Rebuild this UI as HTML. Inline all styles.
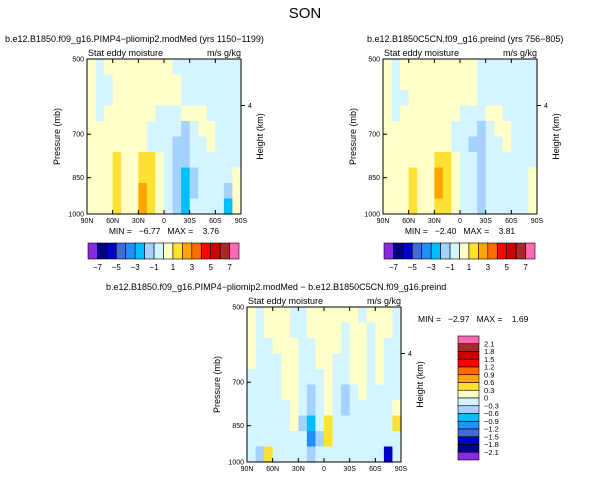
<!DOCTYPE html>
<html><head><meta charset="utf-8"><style>
body{margin:0;background:#fff;font-family:"Liberation Sans",sans-serif;}
svg text{font-family:"Liberation Sans",sans-serif;fill:#000;white-space:pre;}
</style></head><body>
<svg id="s" width="611" height="481" viewBox="0 0 611 481" xmlns="http://www.w3.org/2000/svg">
<text x="305" y="18" font-size="15" text-anchor="middle">SON</text>
</svg>
<script>
const colors=["#8a2be2","#00008b","#0000cd","#4169e1","#1e90ff","#00bfff","#a6d2ff","#d4f4ff","#ffffc8","#ffe135","#ffa500","#ff6a00","#ff0000","#cd0000","#a52a2a","#ff69b4"];
const xTicks=["90N","60N","30N","0","30S","60S","90S"];
const pTicks=[500,700,850,1000];
const barLabelsTop=["-7","-5","-3","-1","1","3","5","7"];
const barLabelsDiff=["2.1","1.8","1.5","1.2","0.9","0.6","0.3","0","-0.3","-0.6","-0.9","-1.2","-1.5","-1.8","-2.1"];
const grid1=[
[0.5,-0.5,0.5,0.5,0.5,0.5,0.5,0.5,0.5,0.5,-0.5,-0.5,-0.5,-0.5,-0.5,-0.5,-0.5,-0.5],
[0.5,-0.5,-0.5,0.5,0.5,0.5,0.5,0.5,0.5,0.5,0.5,-0.5,-0.5,-0.5,-0.5,-0.5,-0.5,-0.5],
[0.5,-0.5,-0.5,0.5,0.5,0.5,0.5,0.5,0.5,0.5,0.5,-0.5,-0.5,-0.5,-0.5,-0.5,-0.5,-0.5],
[0.5,-0.5,0.5,0.5,0.5,0.5,0.5,0.5,-0.5,-0.5,-0.5,0.5,0.5,0.5,-0.5,-0.5,-0.5,-0.5],
[0.5,0.5,0.5,0.5,0.5,0.5,0.5,-0.5,-0.5,-0.5,-0.5,-1.5,-0.5,0.5,0.5,-0.5,-0.5,-0.5],
[0.5,0.5,0.5,0.5,0.5,0.5,0.5,-0.5,-0.5,-0.5,-1.5,-1.5,-0.5,-0.5,0.5,-0.5,-0.5,-0.5],
[0.5,0.5,0.5,1.5,0.5,0.5,1.5,1.5,0.5,-0.5,-1.5,-1.5,-0.5,-0.5,-0.5,-0.5,-0.5,-0.5],
[0.5,0.5,0.5,1.5,0.5,0.5,1.5,1.5,0.5,-0.5,-1.5,-2.5,-1.5,-0.5,-0.5,-0.5,-0.5,0.5],
[0.5,0.5,0.5,1.5,0.5,0.5,2.5,1.5,0.5,-0.5,-1.5,-2.5,-1.5,-0.5,-0.5,-0.5,-1.5,0.5],
[0.5,0.5,0.5,1.5,0.5,0.5,2.5,1.5,0.5,-0.5,-1.5,-2.5,-0.5,-0.5,-0.5,-0.5,-2.5,0.5]];
const grid2=[
[0.5,-0.5,0.5,0.5,0.5,0.5,0.5,0.5,0.5,0.5,0.5,-0.5,-0.5,-0.5,-0.5,-0.5,-0.5,-0.5],
[0.5,-0.5,0.5,0.5,0.5,0.5,0.5,0.5,0.5,0.5,0.5,-0.5,-0.5,-0.5,-0.5,-0.5,-0.5,-0.5],
[0.5,-0.5,-0.5,0.5,0.5,0.5,0.5,0.5,0.5,0.5,0.5,-0.5,-0.5,-0.5,-0.5,-0.5,-0.5,-0.5],
[0.5,-0.5,0.5,0.5,0.5,0.5,0.5,0.5,0.5,-0.5,-0.5,-0.5,0.5,0.5,-0.5,-0.5,-0.5,-0.5],
[0.5,0.5,0.5,0.5,0.5,0.5,0.5,0.5,-0.5,-0.5,-0.5,-1.5,-0.5,0.5,0.5,-0.5,-0.5,-0.5],
[0.5,0.5,0.5,0.5,0.5,0.5,0.5,0.5,-0.5,-0.5,-1.5,-1.5,-0.5,-0.5,0.5,-0.5,-0.5,-0.5],
[0.5,0.5,0.5,0.5,0.5,0.5,1.5,1.5,0.5,-0.5,-0.5,-1.5,-0.5,-0.5,-0.5,-0.5,-0.5,-0.5],
[0.5,0.5,0.5,1.5,0.5,0.5,2.5,1.5,0.5,-0.5,-0.5,-1.5,-0.5,-0.5,-0.5,-0.5,-0.5,0.5],
[0.5,0.5,0.5,1.5,0.5,0.5,2.5,1.5,0.5,-0.5,-0.5,-1.5,-0.5,-0.5,-0.5,-0.5,-0.5,0.5],
[0.5,0.5,0.5,1.5,0.5,0.5,1.5,1.5,0.5,-0.5,-0.5,-1.5,-0.5,-0.5,-0.5,-0.5,-0.5,0.5]];
const grid3=[
[0.15,-0.15,0.15,0.15,0.15,-0.15,-0.15,0.15,0.15,0.15,0.15,0.15,0.15,-0.15,0.15,0.15,0.15,-0.15],
[0.15,-0.15,0.15,0.15,0.15,-0.15,-0.15,0.15,0.15,0.15,0.15,-0.15,0.15,0.15,-0.15,0.15,0.15,-0.15],
[0.15,-0.15,-0.15,0.15,0.15,0.15,-0.15,-0.15,0.15,0.15,0.15,-0.15,0.15,0.15,-0.15,0.15,-0.15,-0.15],
[0.15,-0.15,-0.15,-0.15,0.15,0.15,-0.15,-0.15,0.15,0.15,-0.15,-0.15,0.15,0.15,-0.15,0.15,-0.15,-0.15],
[-0.15,-0.15,-0.15,-0.15,0.15,0.15,-0.15,-0.15,-0.15,0.15,-0.15,-0.15,0.15,0.15,-0.15,0.15,-0.15,-0.15],
[-0.15,-0.15,-0.15,-0.15,0.15,0.15,-0.15,-0.45,-0.15,0.15,-0.15,-0.45,-0.15,0.15,-0.15,-0.15,-0.15,-0.15],
[-0.15,-0.15,-0.15,-0.15,-0.15,0.15,-0.15,-0.45,-0.15,0.15,-0.15,-0.45,-0.15,-0.15,-0.15,-0.15,-0.15,0.15],
[-0.15,-0.15,-0.15,-0.15,-0.15,0.15,-0.45,-0.75,-0.15,0.45,-0.15,-0.15,-0.15,-0.15,-0.15,-0.15,-0.15,0.45],
[-0.15,-0.15,-0.15,-0.15,-0.15,-0.15,-0.15,-1.05,-0.45,0.45,-0.15,-0.15,-0.15,-0.15,-0.15,-0.15,-0.15,-0.15],
[-0.15,-0.45,0.45,-0.15,-0.15,-0.15,-0.15,-0.45,-0.15,-0.15,-0.15,-0.15,-0.15,-0.15,-0.15,-0.15,-1.65,-0.15]];
const NS="http://www.w3.org/2000/svg";
const svg=document.getElementById('s');
function mk(tag,attrs,parent,txt){const e=document.createElementNS(NS,tag);for(const k in attrs)e.setAttribute(k,attrs[k]);if(txt!==undefined)e.textContent=txt;(parent||svg).appendChild(e);return e;}
function lvl(v,step){let i=Math.floor(v/step)+8;return Math.max(0,Math.min(15,i));}
function panel(P){
  const g=mk('g',{});
  
  
  const W=P.w,H=P.h,x0=P.x,y0=P.y;
  const nr=P.grid.length,nc=P.grid[0].length;
  const xs=c=>x0+c*W/nc, ys=r=>y0+r*H/nr;
  P.grid.forEach((row,r)=>row.forEach((v,c)=>{
    const rc=mk('rect',{x:xs(c),y:ys(r),width:W/nc+0.6,height:H/nr+0.6,fill:colors[lvl(v,P.step)]},g);
    
    
  }));
  const fr=mk('rect',{x:x0,y:y0,width:W,height:H,fill:'none',stroke:'#000','stroke-width':1},g);
  
  
  const lpy=p=>y0+Math.log(p/500)/Math.log(2)*H;
  xTicks.forEach((t,i)=>{const x=x0+i*W/6;
    mk('line',{x1:x,y1:y0+H,x2:x,y2:y0+H-4,stroke:'#000'},g);mk('line',{x1:x,y1:y0,x2:x,y2:y0+4,stroke:'#000'},g);
    const tx=mk('text',{x:x,y:y0+H+9,'font-size':7,'text-anchor':'middle'},g,t);
    
    });
  pTicks.forEach(p=>{const y=lpy(p);
    mk('line',{x1:x0,y1:y,x2:x0+4,y2:y,stroke:'#000'},g);
    const tx=mk('text',{x:x0-3,y:y+2.5,'font-size':7,'text-anchor':'end'},g,p);
    
    });
  const hy=y0+H*0.3;
  mk('line',{x1:x0+W,y1:hy,x2:x0+W+4,y2:hy,stroke:'#000'},g);
  mk('text',{x:x0+W+7,y:hy+2.5,'font-size':7},g,'4');
  const yt=mk('text',{x:0,y:0,'font-size':9,'text-anchor':'middle',transform:`translate(${x0-27},${y0+H/2}) rotate(-90)`},g,'Pressure (mb)');
  
  
  const ht=mk('text',{x:0,y:0,'font-size':9,'text-anchor':'middle',transform:`translate(${x0+W+22},${y0+H/2}) rotate(-90)`},g,'Height (km)');
  
  
  mk('text',{x:x0+1,y:y0-3,'font-size':9},g,'Stat eddy moisture');
  mk('text',{x:x0+W,y:y0-3,'font-size':9,'text-anchor':'end'},g,'m/s g/kg');
  const tt=mk('text',{x:P.tx,y:y0-17,'font-size':9},g,P.title);
  
  
}
panel({name:'panel-model',x:87,y:59,w:154,h:155,grid:grid1,step:1,tx:5,title:'b.e12.B1850.f09_g16.PIMP4\u2212pliomip2.modMed (yrs 1150\u22121199)'});
panel({name:'panel-control',x:383,y:59,w:154,h:155,grid:grid2,step:1,tx:367,title:'b.e12.B1850C5CN.f09_g16.preind (yrs 756\u2212805)'});
panel({name:'panel-difference',x:247,y:307,w:154,h:155,grid:grid3,step:0.3,tx:106,title:'b.e12.B1850.f09_g16.PIMP4\u2212pliomip2.modMed \u2212 b.e12.B1850C5CN.f09_g16.preind'});
mk('text',{x:164,y:234,'font-size':8.5,'text-anchor':'middle'},svg,'MIN =   \u22126.77   MAX =    3.76');
mk('text',{x:460,y:234,'font-size':8.5,'text-anchor':'middle'},svg,'MIN =   \u22122.40   MAX =    3.81');
mk('text',{x:418,y:322,'font-size':8.5},svg,'MIN =   \u22122.97   MAX =    1.69');
function hbar(x0,name){
  const g=mk('g',{});
  
  
  const bw=151/16;
  colors.forEach((c,i)=>{const r=mk('rect',{x:x0+i*bw,y:243,width:bw,height:16,fill:c,stroke:'#000','stroke-width':0.6},g);
    
    });
  barLabelsTop.forEach((t,i)=>{mk('text',{x:x0+(2*i+1)*bw,y:270,'font-size':8,'text-anchor':'middle'},g,t.replace('-','\u2212'));});
}
hbar(88,'colorbar-model');hbar(384,'colorbar-control');
(function(){
  const g=mk('g',{});
  
  
  const bh=124/16;
  colors.slice().reverse().forEach((c,i)=>{const r=mk('rect',{x:458,y:336+i*bh,width:21,height:bh,fill:c,stroke:'#000','stroke-width':0.6},g);
    
    });
  barLabelsDiff.forEach((t,i)=>{mk('text',{x:484,y:336+(i+1)*bh+2.5,'font-size':7.5},g,t.replace('-','\u2212'));});
})();
</script>
</body></html>
